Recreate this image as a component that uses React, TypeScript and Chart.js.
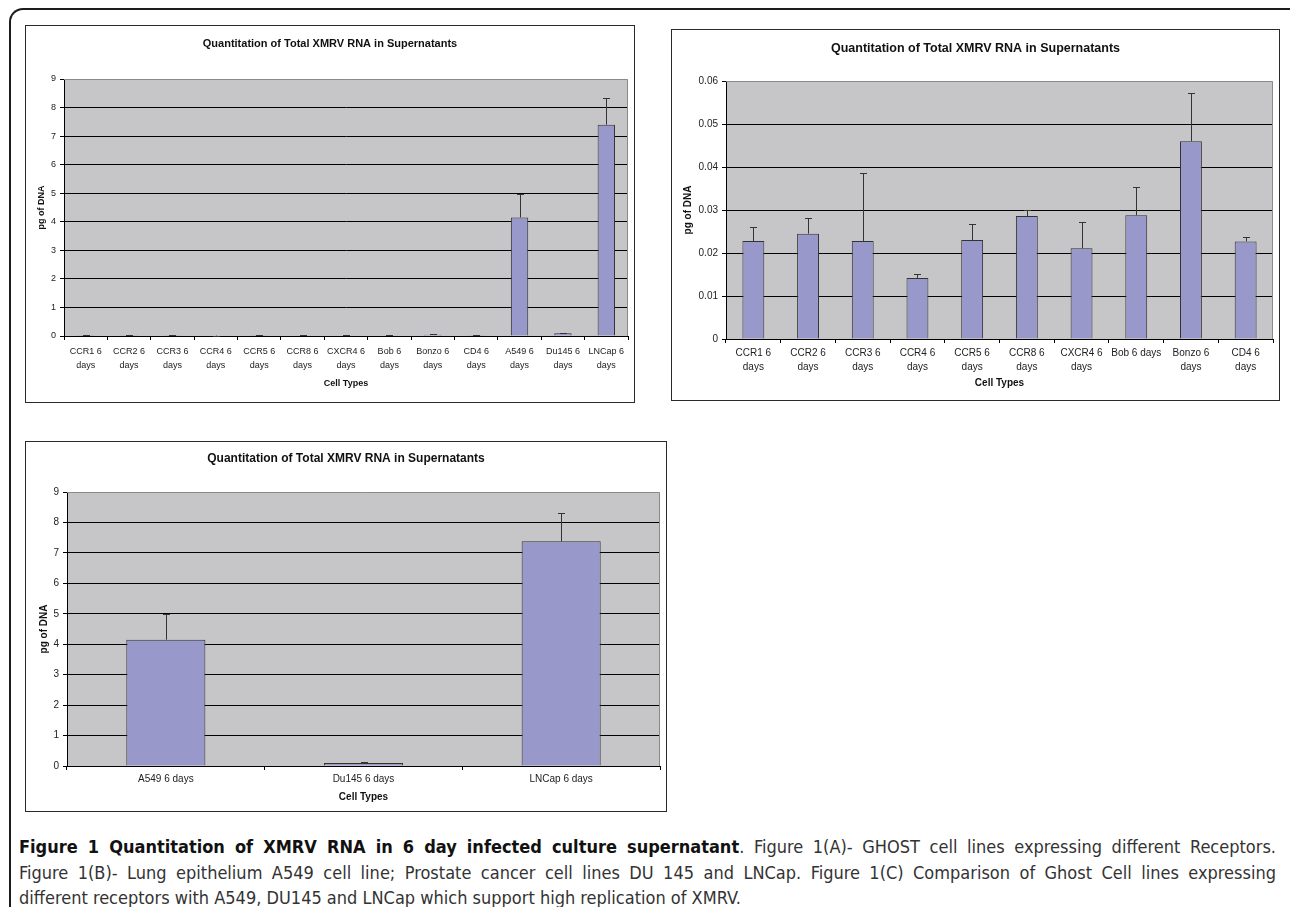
import React, { useEffect, useRef } from "react";
import { Chart, registerables } from "chart.js";
Chart.register(...registerables);

const chartTitle = "Quantitation of Total XMRV RNA in Supernatants";
const yAxisTitle = "pg of DNA";
const xAxisTitle = "Cell Types";

// Panel A: all cell types
const labelsA = [
  ["CCR1 6", "days"], ["CCR2 6", "days"], ["CCR3 6", "days"], ["CCR4 6", "days"],
  ["CCR5 6", "days"], ["CCR8 6", "days"], ["CXCR4 6", "days"], ["Bob 6", "days"],
  ["Bonzo 6", "days"], ["CD4 6", "days"], ["A549 6", "days"], ["Du145 6", "days"],
  ["LNCap 6", "days"],
];
const valuesA = [0.023, 0.0245, 0.023, 0.014, 0.023, 0.0286, 0.021, 0.0288, 0.046, 0.0227, 4.15, 0.1, 7.4];
const errorsA = [0.003, 0.0036, 0.0157, 0.001, 0.0037, 0.0014, 0.0062, 0.0066, 0.0111, 0.0011, 0.83, 0.02, 0.92];
const yTicksA = [0, 1, 2, 3, 4, 5, 6, 7, 8, 9];

// Panel B: GHOST cell lines
const labelsB = [
  ["CCR1 6", "days"], ["CCR2 6", "days"], ["CCR3 6", "days"], ["CCR4 6", "days"],
  ["CCR5 6", "days"], ["CCR8 6", "days"], ["CXCR4 6", "days"], ["Bob 6 days"],
  ["Bonzo 6", "days"], ["CD4 6", "days"],
];
const valuesB = [0.0228, 0.0245, 0.0228, 0.0142, 0.023, 0.0286, 0.0211, 0.0288, 0.046, 0.0227];
const errorsB = [0.0032, 0.0036, 0.0157, 0.001, 0.0037, 0.0014, 0.0062, 0.0066, 0.0111, 0.0011];
const yTicksB = [0, 0.01, 0.02, 0.03, 0.04, 0.05, 0.06];

// Panel C: A549, Du145, LNCap
const labelsC = ["A549 6 days", "Du145 6 days", "LNCap 6 days"];
const valuesC = [4.15, 0.1, 7.38];
const errorsC = [0.83, 0.02, 0.94];
const yTicksC = [0, 1, 2, 3, 4, 5, 6, 7, 8, 9];

const captionBold = "Figure 1 Quantitation of XMRV RNA in 6 day infected culture supernatant";
const captionLines = [
  ". Figure 1(A)- GHOST cell lines expressing different Receptors.",
  "Figure 1(B)- Lung epithelium A549 cell line; Prostate cancer cell lines DU 145 and LNCap. Figure 1(C) Comparison of Ghost Cell lines expressing",
  "different receptors with A549, DU145 and LNCap which support high replication of XMRV.",
];

const FONT = '"Liberation Sans", Arial, sans-serif';

type PanelProps = {
  left: number; top: number; width: number; height: number;
  labels: any[]; values: number[]; errors: number[]; yTicks: number[];
  padLeft: number; padTop: number; padRight: number; padBottom: number;
  titleY: number; yTitleX: number; xTitleY: number;
  titleSize: number; tickSize: number; axisTitleSize: number;
  labelPad: number; lineHeight: number;
};

function BarPanel(p: PanelProps) {
  const ref = useRef<HTMLCanvasElement>(null);
  useEffect(() => {
    const canvas = ref.current!;
    const ymin = p.yTicks[0];
    const ymax = p.yTicks[p.yTicks.length - 1];
    const panelPlugin = {
      id: "panelPlugin",
      beforeDraw(chart: any) {
        const { ctx, chartArea: a } = chart;
        ctx.save();
        ctx.fillStyle = "#ffffff";
        ctx.fillRect(0, 0, chart.width, chart.height);
        ctx.fillStyle = "#c6c6c8";
        ctx.fillRect(a.left, a.top, a.right - a.left, a.bottom - a.top);
        ctx.restore();
      },
      beforeDatasetsDraw(chart: any) {
        const { ctx, chartArea: a } = chart;
        ctx.save();
        ctx.strokeStyle = "#8a8a8a";
        ctx.lineWidth = 1;
        ctx.beginPath();
        ctx.moveTo(a.left, Math.round(a.top) + 0.5);
        ctx.lineTo(Math.round(a.right) - 0.5, Math.round(a.top) + 0.5);
        ctx.lineTo(Math.round(a.right) - 0.5, a.bottom);
        ctx.stroke();
        ctx.restore();
      },
      afterDatasetsDraw(chart: any) {
        const { ctx } = chart;
        const ys = chart.scales.y;
        const meta = chart.getDatasetMeta(0);
        ctx.save();
        ctx.strokeStyle = "#333333";
        ctx.lineWidth = 1;
        meta.data.forEach((bar: any, i: number) => {
          const v = p.values[i];
          const e = p.errors[i];
          if (!e) return;
          const x = Math.round(bar.x) + 0.5;
          const y0 = ys.getPixelForValue(v);
          const y1 = Math.round(ys.getPixelForValue(v + e)) + 0.5;
          ctx.beginPath();
          ctx.moveTo(x, y0);
          ctx.lineTo(x, y1);
          ctx.moveTo(x - 3.5, y1);
          ctx.lineTo(x + 3.5, y1);
          ctx.stroke();
        });
        ctx.restore();
      },
      afterDraw(chart: any) {
        const { ctx, chartArea: a } = chart;
        ctx.save();
        ctx.fillStyle = "#111111";
        ctx.textAlign = "center";
        ctx.textBaseline = "middle";
        ctx.font = `bold ${p.titleSize}px ${FONT}`;
        ctx.fillText(chartTitle, chart.width / 2, p.titleY);
        ctx.font = `bold ${p.axisTitleSize}px ${FONT}`;
        ctx.fillText(xAxisTitle, (a.left + a.right) / 2, p.xTitleY);
        ctx.translate(p.yTitleX, (a.top + a.bottom) / 2);
        ctx.rotate(-Math.PI / 2);
        ctx.fillText(yAxisTitle, 0, 0);
        ctx.restore();
      },
    };
    const chart = new Chart(canvas, {
      type: "bar",
      data: {
        labels: p.labels,
        datasets: [
          {
            data: p.values,
            backgroundColor: "#9898ca",
            borderColor: "#333333",
            borderWidth: 1,
            barPercentage: 0.4,
            categoryPercentage: 1,
          },
        ],
      },
      options: {
        animation: false,
        responsive: false,
        devicePixelRatio: 1,
        layout: { padding: { left: 0, top: p.padTop, right: p.padRight, bottom: 0 } },
        plugins: { legend: { display: false }, tooltip: { enabled: false }, title: { display: false } },
        scales: {
          x: {
            afterFit: (axis: any) => { axis.height = p.padBottom; },
            grid: { display: true, drawOnChartArea: false, drawTicks: true, tickLength: 4, color: "#000", offset: true },
            border: { display: true, color: "#000", width: 1 },
            ticks: {
              color: "#222",
              padding: p.labelPad,
              maxRotation: 0,
              autoSkip: false,
              font: { family: FONT, size: p.tickSize, lineHeight: p.lineHeight },
            },
          },
          y: {
            min: ymin,
            max: ymax,
            afterFit: (axis: any) => { axis.width = p.padLeft; },
            afterBuildTicks: (axis: any) => { axis.ticks = p.yTicks.map((v) => ({ value: v })); },
            grid: {
              display: true,
              drawOnChartArea: true,
              drawTicks: true,
              tickLength: 4,
              color: (ctx: any) => (ctx.tick && ctx.tick.value === ymax ? "rgba(0,0,0,0)" : "#000"),
              tickColor: "#000",
            },
            border: { display: true, color: "#000", width: 1 },
            ticks: {
              color: "#222",
              padding: 4,
              callback: (v: any) => String(v),
              font: { family: FONT, size: p.tickSize },
            },
          },
        },
      },
      plugins: [panelPlugin],
    } as any);
    return () => chart.destroy();
  }, []);
  const cw = p.width - 2;
  const ch = p.height - 2;
  return (
    <div
      style={{
        position: "absolute",
        left: p.left,
        top: p.top,
        width: cw,
        height: ch,
        border: "1px solid #2a2a2a",
        background: "#fff",
      }}
    >
      <canvas ref={ref} width={cw} height={ch} style={{ display: "block", width: cw, height: ch }} />
    </div>
  );
}

export default function App() {
  const lineStyle = (justify: boolean): React.CSSProperties => ({
    height: 25.5,
    lineHeight: "25.5px",
    whiteSpace: "nowrap",
    textAlign: justify ? "justify" : "left",
    textAlignLast: justify ? "justify" : "left",
  } as any);
  return (
    <div
      style={{
        position: "absolute",
        left: 0,
        top: 0,
        width: 1290,
        height: 907,
        overflow: "hidden",
        background: "#fff",
      }}
    >
      <div
        style={{
          position: "absolute",
          left: 9,
          top: 8,
          width: 1300,
          height: 1000,
          borderTop: "2px solid #1c1c1c",
          borderLeft: "2px solid #1c1c1c",
          borderRight: "2px solid #1c1c1c",
          borderTopLeftRadius: 14,
          borderTopRightRadius: 14,
        }}
      />
      <BarPanel
        left={25} top={25} width={610} height={378}
        labels={labelsA} values={valuesA} errors={errorsA} yTicks={yTicksA}
        padLeft={38} padTop={53} padRight={6} padBottom={66}
        titleY={18} yTitleX={16} xTitleY={358}
        titleSize={11} tickSize={9} axisTitleSize={9} labelPad={5} lineHeight={1.55}
      />
      <BarPanel
        left={671} top={29} width={609} height={372}
        labels={labelsB} values={valuesB} errors={errorsB} yTicks={yTicksB}
        padLeft={54} padTop={51} padRight={6} padBottom={61}
        titleY={19} yTitleX={16} xTitleY={353}
        titleSize={12.5} tickSize={10} axisTitleSize={10} labelPad={3} lineHeight={1.4}
      />
      <BarPanel
        left={25} top={441} width={642} height={371}
        labels={labelsC} values={valuesC} errors={errorsC} yTicks={yTicksC}
        padLeft={41} padTop={50} padRight={6} padBottom={45}
        titleY={17} yTitleX={18} xTitleY={355}
        titleSize={12} tickSize={10} axisTitleSize={10} labelPad={3} lineHeight={1.2}
      />
      <div
        style={{
          position: "absolute",
          left: 19,
          top: 834,
          width: 1257,
          fontFamily: '"DejaVu Sans Condensed", "Liberation Sans Narrow", sans-serif',
          fontStretch: "condensed",
          fontSize: 18,
          color: "#333",
        }}
      >
        <div style={lineStyle(true)}>
          <b style={{ color: "#111" }}>{captionBold}</b>
          {captionLines[0]}
        </div>
        <div style={lineStyle(true)}>{captionLines[1]}</div>
        <div style={lineStyle(false)}>{captionLines[2]}</div>
      </div>
    </div>
  );
}
